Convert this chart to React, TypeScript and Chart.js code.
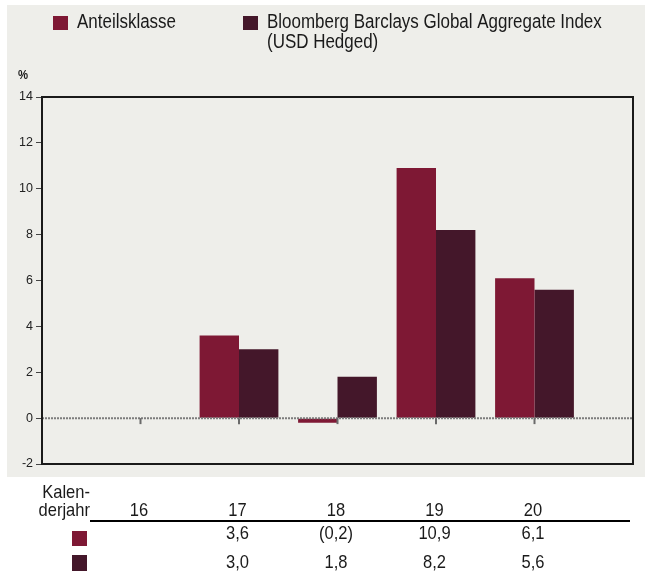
import React, { useEffect, useRef } from "react";
import { Chart, registerables } from "chart.js";

Chart.register(...registerables);

const categories = ["", "16", "17", "18", "19", "20", ""];
const anteilsklasse = [null, null, 3.6, -0.2, 10.9, 6.1, null];
const benchmark = [null, null, 3.0, 1.8, 8.2, 5.6, null];
const seriesNames = ["Anteilsklasse", "Bloomberg Barclays Global Aggregate Index (USD Hedged)"];
const seriesColors = ["#7e1834", "#44172a"];
const yMin = -2;
const yMax = 14;
const yStep = 2;
const yUnit = "%";
const tableHeader = ["Kalen-", "derjahr"];

const FONT = "'Liberation Sans', Arial, sans-serif";
const SQUEEZE = 0.87;

function fmt(v: number | null): string {
  if (v === null || v === undefined) return "";
  const s = Math.abs(v).toFixed(1).replace(".", ",");
  return v < 0 ? "(" + s + ")" : s;
}

function text(ctx: any, s: string, x: number, y: number, align: string) {
  ctx.save();
  ctx.translate(x, y);
  ctx.scale(SQUEEZE, 1);
  ctx.textAlign = align;
  ctx.fillText(s, 0, 0);
  ctx.restore();
}

const decor = {
  id: "decor",
  beforeDraw(chart: any) {
    const ctx = chart.ctx;
    ctx.save();
    ctx.fillStyle = "#ffffff";
    ctx.fillRect(0, 0, chart.width, chart.height);
    ctx.fillStyle = "#eeeeea";
    ctx.fillRect(7, 5, chart.width - 7, 472);
    ctx.restore();
  },
  afterDatasetsDraw(chart: any) {
    const ctx = chart.ctx;
    const { left, right, top, bottom } = chart.chartArea;
    const x = chart.scales.x;
    const y = chart.scales.y;
    const y0 = y.getPixelForValue(0);
    ctx.save();
    ctx.strokeStyle = "#7c7c7c";
    ctx.lineWidth = 2;
    ctx.setLineDash([2, 1]);
    ctx.beginPath();
    ctx.moveTo(left, y0);
    ctx.lineTo(right, y0);
    ctx.stroke();
    ctx.setLineDash([]);
    ctx.strokeStyle = "#6a6a6a";
    ctx.lineWidth = 2;
    categories.forEach((c, i) => {
      if (!c) return;
      const px = x.getPixelForValue(i);
      ctx.beginPath();
      ctx.moveTo(px, y0);
      ctx.lineTo(px, y0 + 6);
      ctx.stroke();
    });
    ctx.strokeStyle = "#1a1a1a";
    ctx.lineWidth = 2;
    ctx.strokeRect(left, top, right - left, bottom - top);
    ctx.restore();
  },
  afterDraw(chart: any) {
    const ctx = chart.ctx;
    const x = chart.scales.x;
    ctx.save();
    ctx.textBaseline = "alphabetic";
    ctx.font = "19.5px " + FONT;
    const legendX = [53, 243];
    seriesNames.forEach((name, i) => {
      const lx = legendX[i];
      ctx.fillStyle = seriesColors[i];
      ctx.fillRect(lx, 16, 15, 14);
      ctx.fillStyle = "#1a1a1a";
      const tx = lx + 24;
      const maxW = (chart.width - tx - 4) / SQUEEZE;
      const words = name.split(" ");
      const lines: string[] = [];
      let cur = "";
      words.forEach((w) => {
        const t = cur ? cur + " " + w : w;
        if (ctx.measureText(t).width > maxW && cur) {
          lines.push(cur);
          cur = w;
        } else cur = t;
      });
      if (cur) lines.push(cur);
      lines.forEach((ln, k) => text(ctx, ln, tx, 28 + k * 20, "left"));
    });
    ctx.font = "bold 13px " + FONT;
    text(ctx, yUnit, 18, 79, "left");
    ctx.font = "19px " + FONT;
    text(ctx, tableHeader[0], 90, 498, "right");
    text(ctx, tableHeader[1], 90, 516, "right");
    categories.forEach((c, i) => {
      if (!c) return;
      const px = x.getPixelForValue(i) - 1.5;
      text(ctx, c, px, 516, "center");
      text(ctx, fmt(anteilsklasse[i]), px, 539, "center");
      text(ctx, fmt(benchmark[i]), px, 568, "center");
    });
    ctx.strokeStyle = "#000000";
    ctx.lineWidth = 2;
    ctx.beginPath();
    ctx.moveTo(90, 521);
    ctx.lineTo(630, 521);
    ctx.stroke();
    ctx.fillStyle = seriesColors[0];
    ctx.fillRect(72, 531, 15, 15);
    ctx.fillStyle = seriesColors[1];
    ctx.fillRect(72, 555, 15, 16);
    ctx.restore();
  },
};

export default function App() {
  const ref = useRef<HTMLCanvasElement | null>(null);
  useEffect(() => {
    if (!ref.current) return;
    const chart = new Chart(ref.current, {
      type: "bar",
      data: {
        labels: categories,
        datasets: [
          { label: seriesNames[0], data: anteilsklasse, backgroundColor: seriesColors[0], borderWidth: 0 },
          { label: seriesNames[1], data: benchmark, backgroundColor: seriesColors[1], borderWidth: 0 },
        ],
      },
      options: {
        responsive: false,
        animation: false,
        devicePixelRatio: 1,
        layout: { padding: { top: 97, bottom: 107, left: 0, right: 12 } },
        datasets: { bar: { categoryPercentage: 0.8, barPercentage: 1.0 } },
        plugins: { legend: { display: false }, tooltip: { enabled: false } },
        scales: {
          x: { display: false, offset: false, grid: { display: false } },
          y: {
            min: yMin,
            max: yMax,
            afterFit: (s: any) => {
              s.width = 42;
            },
            ticks: { stepSize: yStep, color: "#222", padding: 3, font: { size: 12.5, family: FONT } },
            grid: { drawOnChartArea: false, drawTicks: true, tickLength: 6, color: "#444", lineWidth: 1 },
            border: { display: false },
          },
        },
      },
      plugins: [decor],
    });
    return () => chart.destroy();
  }, []);
  return (
    <div style={{ position: "absolute", left: 0, top: 0, width: 645, height: 571 }}>
      <canvas ref={ref} width={645} height={571} style={{ width: 645, height: 571, display: "block" }} />
    </div>
  );
}
